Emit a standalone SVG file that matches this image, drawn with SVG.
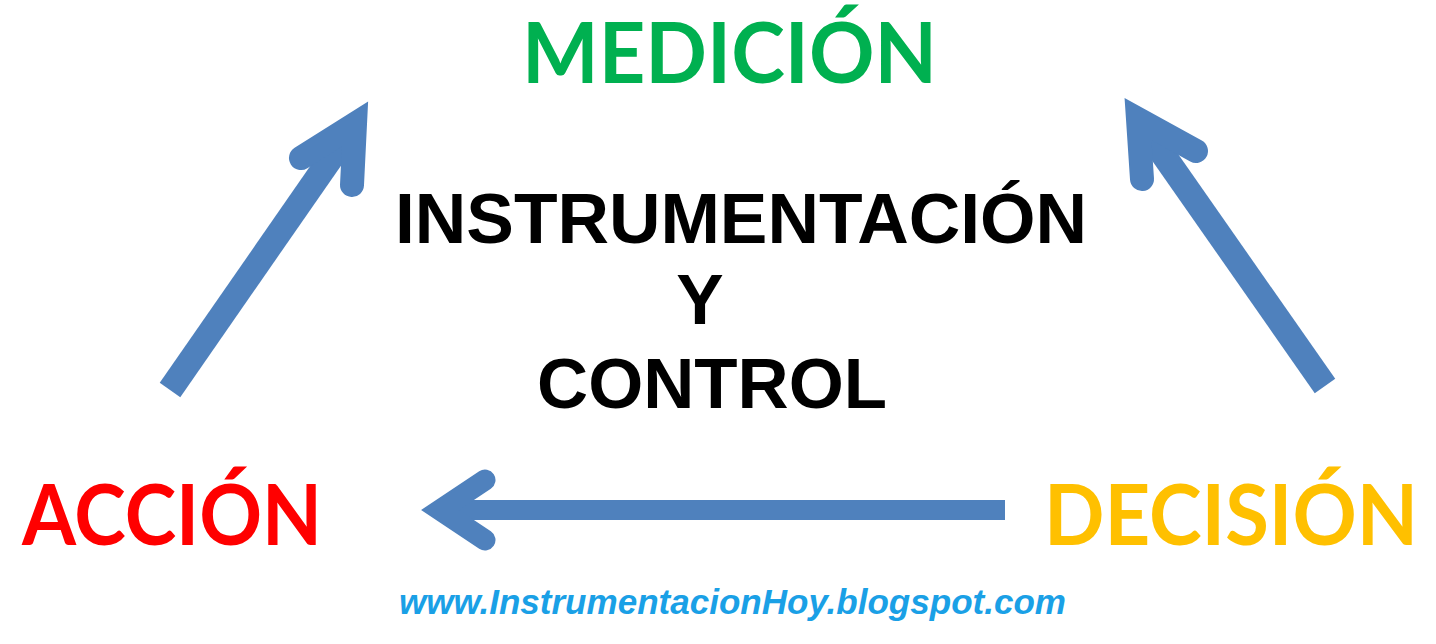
<svg xmlns="http://www.w3.org/2000/svg" width="1436" height="644" viewBox="0 0 1436 644">
<style>
.big{font-family:Lato,"Open Sans",sans-serif;font-weight:700;font-size:84px}
.center{font-family:"Liberation Sans",Arial,sans-serif;font-weight:700;font-size:71px;fill:#000}
.url{font-family:"Liberation Sans",Arial,sans-serif;font-weight:700;font-style:italic;font-size:35px;fill:#1aa0e6}
.shaft{stroke:#4f81bd;fill:none;stroke-linecap:butt}
.head{stroke:#4f81bd;fill:none;stroke-linecap:round;stroke-linejoin:miter;stroke-miterlimit:6}
</style>
<rect width="1436" height="644" fill="#fff"/>
<g id="connectors">
<g id="arrow-accion-medicion">
<line class="shaft" x1="170" y1="390" x2="354" y2="125" stroke-width="25"/>
<polyline class="head" points="301,158 355,124 352,185" stroke-width="24"/>
</g>
<g id="arrow-decision-medicion">
<line class="shaft" x1="1325" y1="386" x2="1139" y2="120" stroke-width="25"/>
<polyline class="head" points="1196,151 1138,119 1142,179" stroke-width="24"/>
</g>
<g id="arrow-decision-accion">
<line class="shaft" x1="1005" y1="510" x2="440" y2="510" stroke-width="20"/>
<polyline class="head" points="485,480 440,510 485,540" stroke-width="21"/>
</g>
</g>
<g id="node-medicion"><text class="big" x="522" y="83" fill="#00b050" textLength="415" lengthAdjust="spacingAndGlyphs">MEDICIÓN</text></g>
<g id="node-accion"><text class="big" x="22" y="545" fill="#ff0000" textLength="300" lengthAdjust="spacingAndGlyphs">ACCIÓN</text></g>
<g id="node-decision"><text class="big" x="1044" y="545" fill="#ffc000" textLength="374" lengthAdjust="spacingAndGlyphs">DECISIÓN</text></g>
<g id="title">
<text class="center" x="395" y="243" textLength="692" lengthAdjust="spacingAndGlyphs">INSTRUMENTACIÓN</text>
<text class="center" x="700" y="324" text-anchor="middle">Y</text>
<text class="center" x="537" y="408" textLength="350" lengthAdjust="spacingAndGlyphs">CONTROL</text>
</g>
<g id="footer"><text class="url" x="399" y="614" textLength="667" lengthAdjust="spacingAndGlyphs">www.InstrumentacionHoy.blogspot.com</text></g>
</svg>
